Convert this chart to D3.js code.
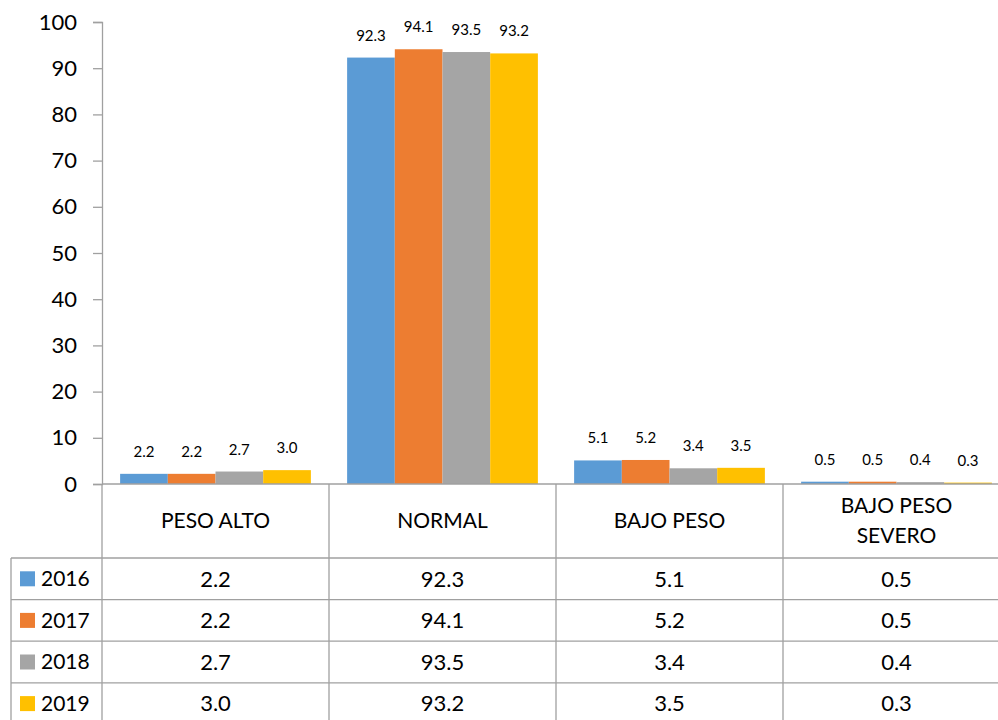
<!DOCTYPE html>
<html>
<head>
<meta charset="utf-8">
<script src="https://cdn.jsdelivr.net/npm/d3@7"></script>
<style>
  body { margin: 0; background: #fff; }
  svg { display: block; font-family: Lato, "Liberation Sans", sans-serif; }
</style>
</head>
<body>
<svg id="chart" width="998" height="720"></svg>
<script>
/////////////// data ////////////////
const CATEGORIES = ["PESO ALTO", "NORMAL", "BAJO PESO", "BAJO PESO SEVERO"];
const CAT_LINES = [["PESO ALTO"], ["NORMAL"], ["BAJO PESO"], ["BAJO PESO", "SEVERO"]];
const YEARS = ["2016", "2017", "2018", "2019"];
const V_2016 = [2.2, 92.3, 5.1, 0.5];
const V_2017 = [2.2, 94.1, 5.2, 0.5];
const V_2018 = [2.7, 93.5, 3.4, 0.4];
const V_2019 = [3.0, 93.2, 3.5, 0.3];
const SERIES = [V_2016, V_2017, V_2018, V_2019];
const COLORS = ["#5B9BD5", "#ED7D31", "#A5A5A5", "#FFC000"];
const Y_TICKS = d3.range(0, 101, 10);

/////////////// layout ////////////////
const SVG = d3.select("#chart");
const PLOT_L = 102;
const PLOT_R = 1010;
const PLOT_T = 22;
const PLOT_B = 484;
const TABLE_L = 11;
const HEAD_B = 558;
const ROW_H = 41.6;
const GRID_C = "#A0A0A0";

const SCL_X = d3.scaleBand()
    .domain(CATEGORIES)
    .range([PLOT_L, PLOT_R]);
const SCL_X_IN = d3.scaleBand()
    .domain(YEARS)
    .range([0, SCL_X.bandwidth()])
    .paddingOuter(0.38)
    .paddingInner(0);
const SCL_Y = d3.scaleLinear()
    .domain([0, 100])
    .range([PLOT_B, PLOT_T]);

// y axis
const Y_AXIS = SVG.append("g")
    .attr("transform", `translate(${PLOT_L}, 0)`)
    .call(d3.axisLeft(SCL_Y).tickValues(Y_TICKS).tickSize(9).tickPadding(16));
Y_AXIS.select(".domain").attr("stroke", GRID_C).attr("stroke-width", 1.3);
Y_AXIS.selectAll(".tick line").attr("stroke", GRID_C).attr("stroke-width", 1.3);
Y_AXIS.selectAll(".tick text")
    .attr("font-size", 22)
    .attr("font-family", "Lato, sans-serif")
    .attr("fill", "#000");

// bars
const BAR_GRP = SVG.append("g");
SERIES.forEach((vals, s) => {
    const g = BAR_GRP.append("g");
    g.selectAll("rect")
        .data(vals)
        .enter()
        .append("rect")
        .attr("x", (d, i) => SCL_X(CATEGORIES[i]) + SCL_X_IN(YEARS[s]))
        .attr("y", d => SCL_Y(d))
        .attr("width", SCL_X_IN.bandwidth())
        .attr("height", d => SCL_Y(0) - SCL_Y(d))
        .attr("fill", COLORS[s]);
    g.selectAll("text")
        .data(vals)
        .enter()
        .append("text")
        .attr("x", (d, i) => SCL_X(CATEGORIES[i]) + SCL_X_IN(YEARS[s]) + SCL_X_IN.bandwidth() / 2)
        .attr("y", d => SCL_Y(d) - 17)
        .attr("text-anchor", "middle")
        .attr("font-size", 15)
        .text(d => d.toFixed(1));
});

// baseline
SVG.append("line")
    .attr("x1", PLOT_L).attr("x2", PLOT_R)
    .attr("y1", PLOT_B).attr("y2", PLOT_B)
    .attr("stroke", GRID_C).attr("stroke-width", 1.3);

/////////////// data table ////////////////
const TBL = SVG.append("g");
const tableB = HEAD_B + ROW_H * YEARS.length;
// vertical lines
[PLOT_L, ...CATEGORIES.slice(1).map(c => SCL_X(c))].forEach(x => {
    TBL.append("line")
        .attr("x1", x).attr("x2", x)
        .attr("y1", PLOT_B).attr("y2", tableB)
        .attr("stroke", GRID_C).attr("stroke-width", 1.3);
});
TBL.append("line")
    .attr("x1", TABLE_L).attr("x2", TABLE_L)
    .attr("y1", HEAD_B).attr("y2", tableB)
    .attr("stroke", GRID_C).attr("stroke-width", 1.3);
// horizontal lines
d3.range(YEARS.length).forEach(r => {
    TBL.append("line")
        .attr("x1", TABLE_L).attr("x2", PLOT_R)
        .attr("y1", HEAD_B + r * ROW_H).attr("y2", HEAD_B + r * ROW_H)
        .attr("stroke", GRID_C).attr("stroke-width", 1.3);
});
// header text
CAT_LINES.forEach((lines, i) => {
    const cx = SCL_X(CATEGORIES[i]) + SCL_X.bandwidth() / 2;
    const cy = (PLOT_B + HEAD_B) / 2;
    lines.forEach((ln, j) => {
        TBL.append("text")
            .attr("x", cx)
            .attr("y", cy + (j - (lines.length - 1) / 2) * 30)
            .attr("dy", "0.35em")
            .attr("text-anchor", "middle")
            .attr("font-size", 21)
            .text(ln);
    });
});
// rows
YEARS.forEach((yr, r) => {
    const cy = HEAD_B + r * ROW_H + ROW_H / 2;
    TBL.append("rect")
        .attr("x", 20).attr("y", cy - 7.5)
        .attr("width", 15).attr("height", 15)
        .attr("fill", COLORS[r]);
    TBL.append("text")
        .attr("x", 41).attr("y", cy)
        .attr("dy", "0.35em")
        .attr("font-size", 21)
        .text(yr);
    SERIES[r].forEach((v, i) => {
        TBL.append("text")
            .attr("x", SCL_X(CATEGORIES[i]) + SCL_X.bandwidth() / 2)
            .attr("y", cy)
            .attr("dy", "0.35em")
            .attr("text-anchor", "middle")
            .attr("font-size", 22)
            .text(v.toFixed(1));
    });
});
</script>
</body>
</html>
